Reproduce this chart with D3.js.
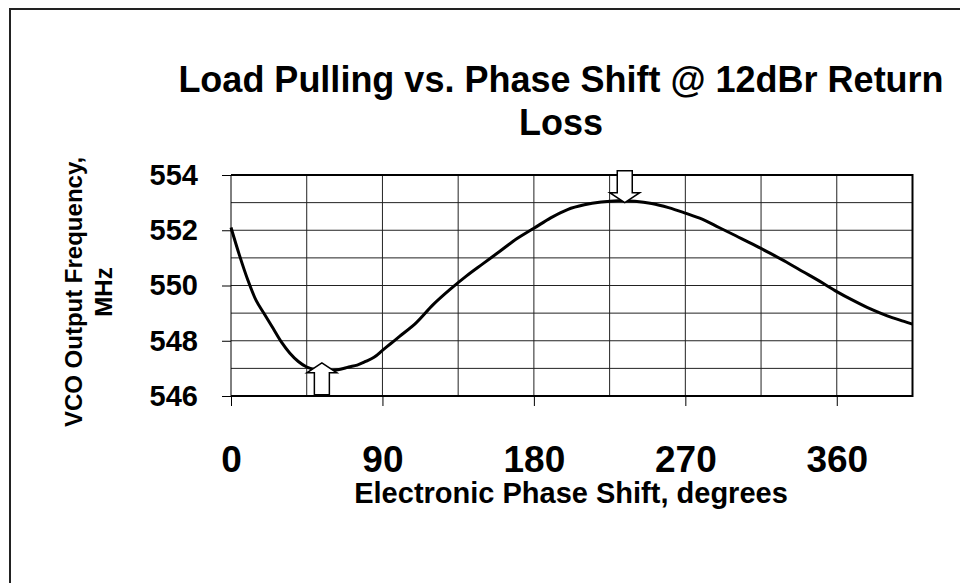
<!DOCTYPE html>
<html>
<head>
<meta charset="utf-8">
<script src="https://cdn.jsdelivr.net/npm/d3@7"></script>
<style>
    body { margin: 0; background: #fff; }
    svg { display: block; }
    text { font-family: "Liberation Sans", Arial, sans-serif; font-weight: bold; fill: #000; }
    .grid line { stroke: #222; stroke-width: 1; }
    .axis path { display: none; }
    .axis line { stroke: #000; stroke-width: 1; }
</style>
</head>
<body>
<script>
(function () {

    //phase shift (degrees) and measured VCO frequency (MHz)
    var phaseDeg = [0, 5, 10, 15, 20, 25, 30, 35, 40, 45, 50, 55, 60, 65, 70, 75, 80, 85, 90, 95,
        100, 110, 120, 130, 140, 150, 160, 170, 180, 190, 200, 210, 220, 230, 240, 250, 260, 270,
        280, 290, 300, 310, 320, 330, 340, 350, 360, 370, 380, 390, 400, 405];
    var freqMHz = [552.1, 551.1, 550.2, 549.45, 548.95, 548.45, 547.95, 547.55, 547.25, 547.05, 546.95, 546.9, 546.92, 546.97, 547.05, 547.12, 547.25, 547.4, 547.65, 547.9,
        548.15, 548.65, 549.3, 549.85, 550.35, 550.8, 551.25, 551.7, 552.07, 552.45, 552.75, 552.92, 553.02, 553.07, 553.05, 552.97, 552.82, 552.62,
        552.4, 552.1, 551.8, 551.5, 551.18, 550.85, 550.5, 550.15, 549.78, 549.45, 549.15, 548.9, 548.7, 548.6];

    //axis ticks
    var xTicks = [0, 90, 180, 270, 360];
    var xGrid = [45, 90, 135, 180, 225, 270, 315, 360];
    var yTicks = [546, 548, 550, 552, 554];
    var yGrid = [547, 548, 549, 550, 551, 552, 553];

    //min / max markers
    var arrowDeg = [54, 234];
    var arrowVal = [547.2, 553.0];
    var arrowDir = ["up", "down"];

    var titleLines = ["Load Pulling vs. Phase Shift @ 12dBr Return", "Loss"];
    var yTitleLines = ["VCO Output Frequency,", "MHz"];
    var xTitle = "Electronic Phase Shift, degrees";

    var width = 960, height = 583;
    var left = 231, right = 912.5, top = 175, bottom = 396;

    var svg = d3.select("body").append("svg")
        .attr("width", width)
        .attr("height", height);

    //outer chart border (runs off the right and bottom)
    svg.append("rect")
        .attr("x", 10).attr("y", 9)
        .attr("width", 1000).attr("height", 1000)
        .attr("fill", "#fff")
        .attr("stroke", "#222")
        .attr("stroke-width", 2);

    var x = d3.scaleLinear().domain([0, 405]).range([left, right]);
    var y = d3.scaleLinear().domain([546, 554]).range([bottom, top]);

    //grid lines
    var grid = svg.append("g").attr("class", "grid");
    grid.selectAll(".h").data(yGrid).enter().append("line")
        .attr("x1", left).attr("x2", right)
        .attr("y1", function (d) { return y(d); })
        .attr("y2", function (d) { return y(d); });
    grid.selectAll(".v").data(xGrid).enter().append("line")
        .attr("y1", top).attr("y2", bottom)
        .attr("x1", function (d) { return x(d); })
        .attr("x2", function (d) { return x(d); });

    //plot frame
    svg.append("path")
        .attr("d", "M" + left + "," + top + "H" + right + "V" + bottom + "H" + left)
        .attr("fill", "none")
        .attr("stroke", "#000")
        .attr("stroke-width", 2);
    svg.append("line")
        .attr("x1", left).attr("x2", left)
        .attr("y1", top).attr("y2", bottom)
        .attr("stroke", "#000");

    //axes
    var yAxis = d3.axisLeft(y).tickValues(yTicks).tickSize(9).tickPadding(24).tickFormat(d3.format("d"));
    svg.append("g")
        .attr("class", "axis")
        .attr("transform", "translate(" + left + ",0)")
        .call(yAxis)
        .selectAll("text")
        .style("font-size", "29px");

    var xAxis = d3.axisBottom(x).tickValues(xTicks).tickSize(10).tickPadding(40).tickFormat(d3.format("d"));
    svg.append("g")
        .attr("class", "axis")
        .attr("transform", "translate(0," + bottom + ")")
        .call(xAxis)
        .selectAll("text")
        .style("font-size", "37px");

    //data line
    var line = d3.line()
        .x(function (d, i) { return x(phaseDeg[i]); })
        .y(function (d) { return y(d); })
        .curve(d3.curveCatmullRom);

    svg.append("path")
        .datum(freqMHz)
        .attr("d", line)
        .attr("fill", "none")
        .attr("stroke", "#000")
        .attr("stroke-width", 3);

    //block arrows pointing at min and max
    var headW = 15, shaftW = 7.5, headH = 10, totalH = 32;
    svg.selectAll(".arrow")
        .data(arrowDeg)
        .enter()
        .append("path")
        .attr("class", "arrow")
        .attr("d", function (d, i) {
            var tx = x(d), ty = y(arrowVal[i]);
            var s = arrowDir[i] == "up" ? 1 : -1;
            return "M" + tx + "," + ty +
                "L" + (tx + headW) + "," + (ty + s * headH) +
                "L" + (tx + shaftW) + "," + (ty + s * headH) +
                "L" + (tx + shaftW) + "," + (ty + s * totalH) +
                "L" + (tx - shaftW) + "," + (ty + s * totalH) +
                "L" + (tx - shaftW) + "," + (ty + s * headH) +
                "L" + (tx - headW) + "," + (ty + s * headH) + "Z";
        })
        .attr("fill", "#fff")
        .attr("stroke", "#000")
        .attr("stroke-width", 1.5);

    //chart title
    svg.append("text")
        .attr("text-anchor", "middle")
        .style("font-size", "36px")
        .selectAll("tspan")
        .data(titleLines)
        .enter()
        .append("tspan")
        .attr("x", 561)
        .attr("y", function (d, i) { return 92 + i * 43; })
        .text(function (d) { return d; });

    //y axis title
    svg.append("text")
        .attr("text-anchor", "middle")
        .attr("transform", "translate(0,292) rotate(-90)")
        .style("font-size", "24px")
        .selectAll("tspan")
        .data(yTitleLines)
        .enter()
        .append("tspan")
        .attr("x", 0)
        .attr("y", function (d, i) { return 82 + i * 30; })
        .text(function (d) { return d; });

    //x axis title
    svg.append("text")
        .attr("x", 571)
        .attr("y", 503)
        .attr("text-anchor", "middle")
        .style("font-size", "29px")
        .text(xTitle);

})();
</script>
</body>
</html>
